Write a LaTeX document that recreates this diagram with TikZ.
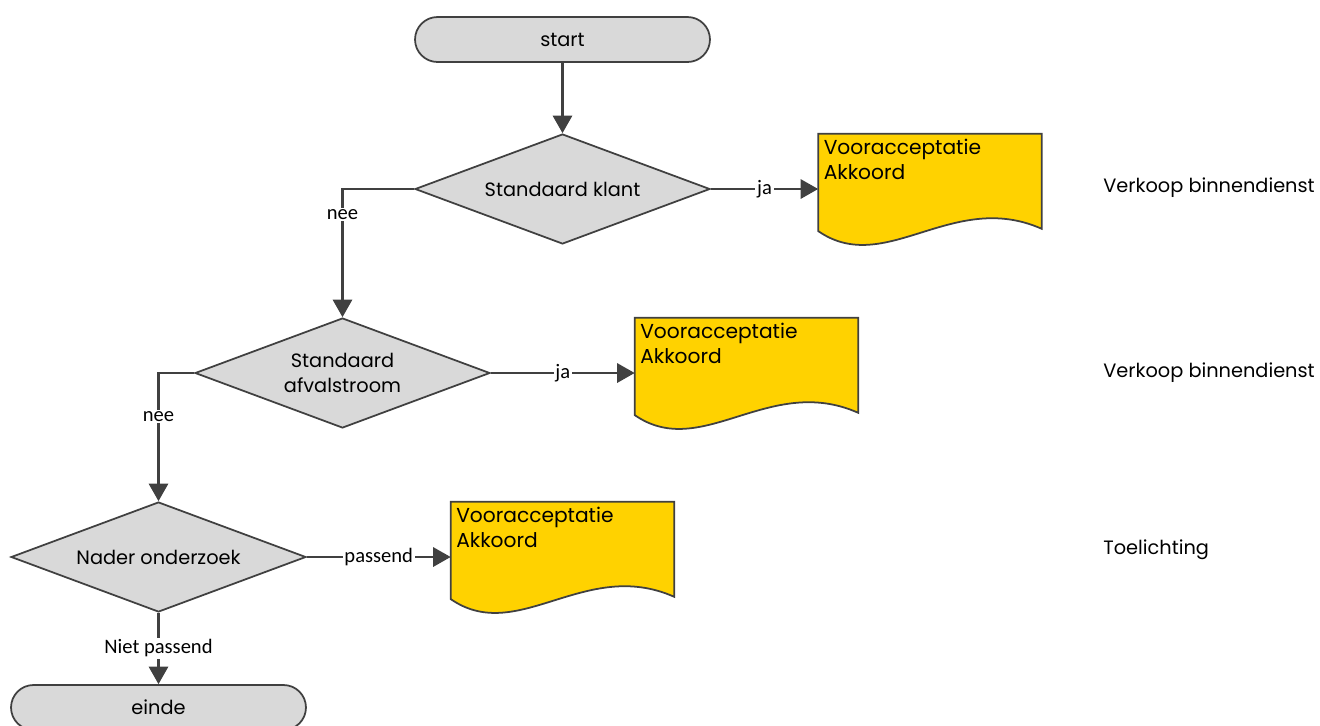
\documentclass[tikz,border=0pt]{standalone}
\usepackage{fontspec}
\setmainfont{Poppins}
\newfontfamily\labelfont{Carlito}
\usetikzlibrary{shapes.geometric, arrows.meta, calc, backgrounds}
\definecolor{LineColor}{RGB}{64,64,64}
\definecolor{ShapeColor}{RGB}{217,217,217}
\definecolor{DocColor}{RGB}{255,210,0}
\tikzstyle{terminal} = [rectangle, rounded corners=0.45cm, draw=LineColor, line width=1pt, fill=ShapeColor, minimum width=5.9cm, minimum height=0.9cm, font=\fontsize{11}{14}\selectfont]
\tikzstyle{decision} = [diamond, aspect=2.7, draw=LineColor, line width=1pt, fill=ShapeColor, minimum width=5.9cm, minimum height=2.2cm, inner sep=0pt, align=center, font=\fontsize{11}{14}\selectfont]
\tikzstyle{docbox} = [rectangle, minimum width=4.46cm, minimum height=2.2cm]
\tikzstyle{doctext} = [anchor=north west, align=left, inner sep=3pt, font=\fontsize{11.5}{14}\selectfont]
\tikzstyle{docline} = [draw=LineColor, line width=1pt, fill=DocColor]
\tikzstyle{arrow} = [line width=1.3pt, LineColor, -{Triangle[length=10pt,width=11pt]}]
\tikzstyle{lbl} = [fill=white, inner sep=1pt, font=\labelfont\fontsize{11.7}{13}\selectfont, text=black]
\tikzstyle{role} = [anchor=west, inner sep=0pt, font=\fontsize{11}{14}\selectfont]
% wavy document outline behind a docbox node
\newcommand{\docshape}[1]{%
  \begin{scope}[on background layer]
    \draw[docline] let \p1=(#1.north west), \p2=(#1.south east) in
      (\x1,\y1) -- (\x2,\y1) -- (\x2,{\y1+0.86*(\y2-\y1)})
      .. controls ({\x1+0.6*(\x2-\x1)},{\y1+0.5*(\y2-\y1)}) and ({\x1+0.3*(\x2-\x1)},{\y1+1.3*(\y2-\y1)}) .. (\x1,{\y1+0.88*(\y2-\y1)}) -- cycle;
  \end{scope}}
\begin{document}
\begin{tikzpicture}[x=0.02cm, y=-0.02cm]
    \useasboundingbox (0,0) rectangle (1320,725);
    % Start and end
    \node[terminal] (start) at (562.5,39.5) {start};
    \node[terminal] (einde) at (158.5,707.5) {einde};

    % Decisions
    \node[decision] (klant) at (562.5,189) {Standaard klant};
    \node[decision] (afval) at (342.5,373) {Standaard\\afvalstroom};
    \node[decision] (onderzoek) at (158.5,557) {Nader onderzoek};

    % Documents
    \node[docbox, label={[doctext]north west:Vooracceptatie\\Akkoord}] (doc1) at (930,189) {};
    \node[docbox, label={[doctext]north west:Vooracceptatie\\Akkoord}] (doc2) at (746.5,373) {};
    \node[docbox, label={[doctext]north west:Vooracceptatie\\Akkoord}] (doc3) at (562.5,557) {};
    \docshape{doc1}
    \docshape{doc2}
    \docshape{doc3}

    % Roles
    \node[role] (role1) at (1103,188) {Verkoop binnendienst};
    \node[role] (role2) at (1103,373) {Verkoop binnendienst};
    \node[role] (role3) at (1103,550) {Toelichting};

    % Flow
    \draw[arrow] (start) -- (klant);
    \draw[arrow] (klant) -- node[lbl] {ja} (doc1);
    \draw[arrow] (klant.west) -| node[lbl, pos=0.6] {nee} (afval.north);
    \draw[arrow] (afval) -- node[lbl] {ja} (doc2);
    \draw[arrow] (afval.west) -| node[lbl, pos=0.67] {nee} (onderzoek.north);
    \draw[arrow] (onderzoek) -- node[lbl] {passend} (doc3);
    \draw[arrow] (onderzoek) -- node[lbl] {Niet passend} (einde);
\end{tikzpicture}
\end{document}
